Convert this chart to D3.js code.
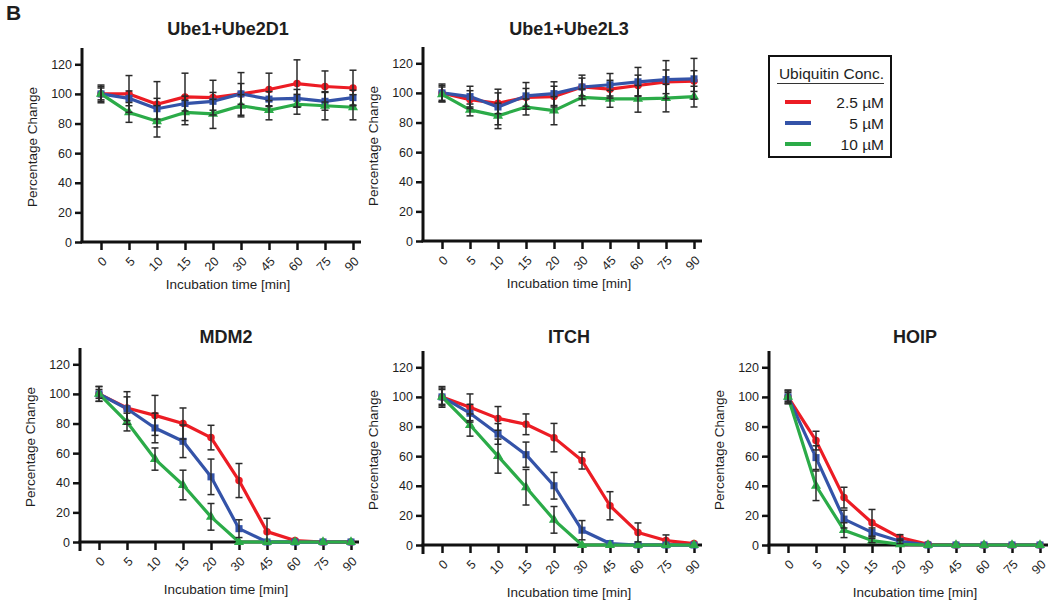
<!DOCTYPE html>
<html>
<head>
<meta charset="utf-8">
<script src="https://cdn.jsdelivr.net/npm/d3@7"></script>
<style>
  body { margin: 0; background: #fff; }
  text { font-family: "Liberation Sans", Arial, sans-serif; fill: #1e1e1e; }
</style>
</head>
<body>
<script>
// time points (categorical x)
var times = ["0", "5", "10", "15", "20", "30", "45", "60", "75", "90"];
var yTicks = [0, 20, 40, 60, 80, 100, 120];
var seriesNames = ["2.5 \u00b5M", "5 \u00b5M", "10 \u00b5M"];
var colors = ["#ec1c24", "#3453a8", "#2bab48"];

// means per panel: [2.5 uM, 5 uM, 10 uM]
var ube2d1Mean = [
  [100, 100, 93, 98, 97.5, 100, 103, 107, 105, 104],
  [100, 97, 90, 93.5, 95, 100, 96.5, 97, 95, 97.5],
  [100, 87.5, 81.5, 87.5, 86.5, 92, 89, 93, 92, 91]
];
var ube2d1Sd = [
  [6, 12.4, 15.3, 16, 11.7, 14.4, 11, 16, 10.5, 12],
  [4, 5, 7, 5, 6, 7, 5, 6, 6, 5],
  [5, 6.7, 10.6, 8.3, 9.8, 7.5, 6.5, 6.7, 9.5, 8.5]
];
var ube2l3Mean = [
  [100, 95.5, 93, 97, 97.5, 104, 102.5, 105, 107.5, 108],
  [100, 97.5, 90.5, 98, 99.5, 104, 105.5, 107.5, 109, 109.5],
  [99, 88.5, 84.5, 90.5, 88, 97, 96, 96, 96.5, 97.5]
];
var ube2l3Sd = [
  [5, 6, 7, 6, 7, 6, 6, 7, 8, 7],
  [6, 7, 12, 9, 8, 8, 7.6, 9.7, 12.8, 13.8],
  [5, 4, 8.6, 5.4, 9.5, 5.6, 5.7, 9, 9.3, 7]
];
var mdm2Mean = [
  [100, 90.5, 85.5, 80, 70.5, 41.5, 7, 1, 0, 0],
  [100, 90, 77, 68, 44, 9, 0, 0, 0, 0],
  [100, 81, 56, 38.5, 17, 0, 0, 0, 0, 0]
];
var mdm2Sd = [
  [5, 11, 13.5, 10.5, 8.3, 11.5, 9, 0, 0, 0],
  [5, 8, 10, 11, 12, 6, 0, 0, 0, 0],
  [3, 6, 7.5, 10, 9, 0, 0, 0, 0, 0]
];
var itchMean = [
  [100, 93, 85.5, 81.5, 72.5, 57, 26.5, 8.5, 3, 1],
  [100, 89, 75, 61, 40, 10, 1, 0, 0, 0],
  [100, 81, 60, 39, 17, 0, 0, 0, 0, 0]
];
var itchSd = [
  [7, 9, 8, 7, 9.6, 5.7, 9.5, 6.4, 3.8, 0],
  [6, 6, 7, 8.5, 9, 6.5, 0, 0, 0, 0],
  [5, 7.5, 11.5, 12, 9, 0, 0, 0, 0, 0]
];
var hoipMean = [
  [100, 70.5, 32, 15, 5, 0.5, 0, 0, 0, 0],
  [100, 59, 17.5, 8.5, 2.5, 0, 0, 0, 0, 0],
  [100, 40, 10, 3, 0.5, 0, 0, 0, 0, 0]
];
var hoipSd = [
  [4.7, 6.3, 7, 9, 2, 0, 0, 0, 0, 0],
  [4, 8, 6, 3, 1.5, 0, 0, 0, 0, 0],
  [3, 10, 5, 1.5, 0, 0, 0, 0, 0, 0]
];

var panels = [
  {title: "Ube1+Ube2D1", mean: ube2d1Mean, sd: ube2d1Sd, left: 82, top: 48, titleY: 35, labelDy: 47, ext: 0},
  {title: "Ube1+Ube2L3", mean: ube2l3Mean, sd: ube2l3Sd, left: 423, top: 47, titleY: 35, labelDy: 47, ext: 0},
  {title: "MDM2", mean: mdm2Mean, sd: mdm2Sd, left: 80, top: 348, titleY: 343, labelDy: 52, ext: 9},
  {title: "ITCH", mean: itchMean, sd: itchSd, left: 423, top: 351, titleY: 343, labelDy: 52, ext: 9},
  {title: "HOIP", mean: hoipMean, sd: hoipSd, left: 769, top: 351, titleY: 343, labelDy: 52, ext: 9}
];

var W = 1053, H = 604;
var plotH = 194, axisW = 279;

var svg = d3.select("body").append("svg")
  .attr("width", W)
  .attr("height", H);

svg.append("text")
  .attr("x", 6).attr("y", 20)
  .style("font-size", "21px").style("font-weight", "bold")
  .text("B");

var x = d3.scalePoint().domain(times).range([19, 271]);
var y = d3.scaleLinear().domain([0, 131]).range([plotH, 0]);

var line = d3.line()
  .x(function(d, i) { return x(times[i]); })
  .y(function(d) { return y(d); });

var symbols = [d3.symbolCircle, d3.symbolSquare, d3.symbolTriangle];
var symSizes = [44, 50, 44];

panels.forEach(function(p) {
  var g = svg.append("g").attr("transform", "translate(" + p.left + "," + p.top + ")");

  // title
  svg.append("text")
    .attr("x", p.left + 146).attr("y", p.titleY)
    .attr("text-anchor", "middle")
    .style("font-size", "18px").style("font-weight", "bold")
    .text(p.title);

  // y axis
  var yAxis = d3.axisLeft(y).tickValues(yTicks).tickSize(7).tickPadding(3).tickSizeOuter(0);
  var ya = g.append("g").call(yAxis);
  ya.select(".domain").remove();
  ya.selectAll(".tick line").attr("stroke", "#111").attr("stroke-width", 2.5);
  ya.selectAll(".tick text").style("font-size", "12.5px").style("font-family", "'Liberation Sans', Arial, sans-serif").attr("fill", "#1e1e1e");

  // x axis
  var xAxis = d3.axisBottom(x).tickSize(8).tickSizeOuter(0);
  var xa = g.append("g").attr("transform", "translate(0," + plotH + ")").call(xAxis);
  xa.select(".domain").remove();
  xa.selectAll(".tick line").attr("stroke", "#111").attr("stroke-width", 2.5);
  xa.selectAll(".tick text")
    .style("font-size", "12.5px").style("font-family", "'Liberation Sans', Arial, sans-serif").attr("fill", "#1e1e1e")
    .attr("text-anchor", "end")
    .attr("y", 0).attr("dy", "0.35em")
    .attr("transform", "translate(3,17) rotate(-45)");

  // axis lines
  g.append("line").attr("x1", 0).attr("x2", 0).attr("y1", 0).attr("y2", plotH + p.ext)
    .attr("stroke", "#111").attr("stroke-width", 3);
  g.append("line").attr("x1", -1.5).attr("x2", axisW).attr("y1", plotH).attr("y2", plotH)
    .attr("stroke", "#111").attr("stroke-width", 3);

  // axis titles
  g.append("text")
    .attr("transform", "translate(-45," + (plotH / 2 + 2) + ") rotate(-90)")
    .attr("text-anchor", "middle")
    .style("font-size", "13.5px")
    .text("Percentage Change");
  g.append("text")
    .attr("x", 146).attr("y", plotH + p.labelDy)
    .attr("text-anchor", "middle")
    .style("font-size", "13.5px")
    .text("Incubation time [min]");

  // lines
  p.mean.forEach(function(vals, s) {
    g.append("path")
      .datum(vals)
      .attr("fill", "none")
      .attr("stroke", colors[s])
      .attr("stroke-width", 3.2)
      .attr("stroke-linejoin", "round")
      .attr("d", line);
  });

  // markers
  p.mean.forEach(function(vals, s) {
    g.selectAll(".m" + s)
      .data(vals)
      .enter().append("path")
      .attr("class", "m" + s)
      .attr("transform", function(d, i) { return "translate(" + x(times[i]) + "," + y(d) + ")"; })
      .attr("d", d3.symbol().type(symbols[s]).size(symSizes[s]))
      .attr("fill", colors[s]);
  });

  // error bars
  p.mean.forEach(function(vals, s) {
    var sd = p.sd[s];
    vals.forEach(function(v, i) {
      if (!sd[i]) return;
      var cx = x(times[i]);
      var y1 = y(v + sd[i]), y2 = y(Math.max(0, v - sd[i]));
      var eb = g.append("g").attr("stroke", "#2a2a2a").attr("stroke-width", 1.5);
      eb.append("line").attr("x1", cx).attr("x2", cx).attr("y1", y1).attr("y2", y2);
      eb.append("line").attr("x1", cx - 3.5).attr("x2", cx + 3.5).attr("y1", y1).attr("y2", y1);
      if (v - sd[i] > 0)
        eb.append("line").attr("x1", cx - 3.5).attr("x2", cx + 3.5).attr("y1", y2).attr("y2", y2);
    });
  });
});

// legend
var lg = svg.append("g").attr("transform", "translate(769,56)");
lg.append("rect").attr("x", 0).attr("y", 0).attr("width", 122).attr("height", 101)
  .attr("fill", "#fff").attr("stroke", "#111").attr("stroke-width", 2);
lg.append("text").attr("x", 115).attr("y", 23).attr("text-anchor", "end")
  .style("font-size", "15.5px").text("Ubiquitin Conc.");
lg.append("line").attr("x1", 8).attr("x2", 115).attr("y1", 27.5).attr("y2", 27.5)
  .attr("stroke", "#333").attr("stroke-width", 1.2);
seriesNames.forEach(function(n, i) {
  var yy = 46 + i * 21;
  lg.append("line").attr("x1", 16).attr("x2", 42).attr("y1", yy).attr("y2", yy)
    .attr("stroke", colors[i]).attr("stroke-width", 4);
  lg.append("text").attr("x", 115).attr("y", yy + 5.5).attr("text-anchor", "end")
    .style("font-size", "15.5px").text(n);
});
</script>
</body>
</html>
